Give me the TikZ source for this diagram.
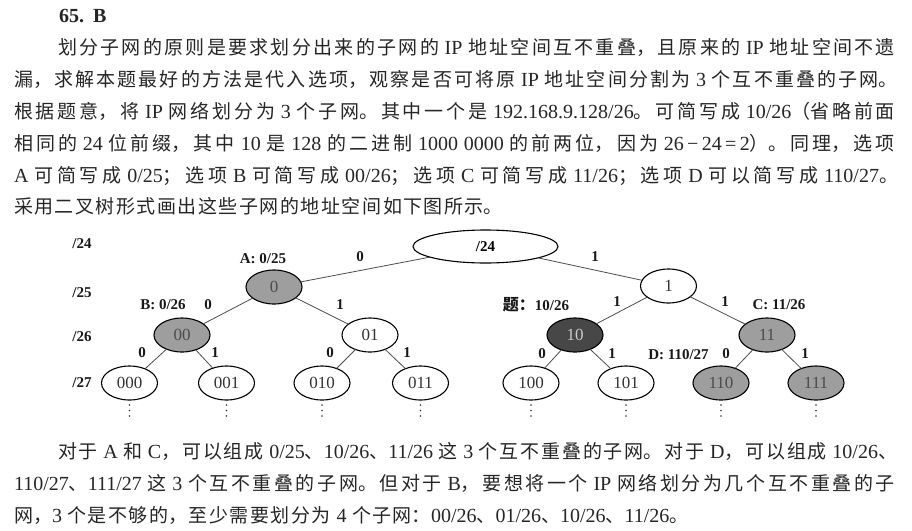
\documentclass[tikz,border=0pt]{standalone}
\usepackage{fontspec}
\setmainfont{Liberation Serif}
\newfontfamily\cjkf{Noto Sans CJK SC}
\usetikzlibrary{shapes.geometric}
\XeTeXlinebreaklocale "zh"
\XeTeXlinebreakskip=1.5pt plus 10pt minus 0.5pt
\newcommand{\zh}[1]{{\cjkf\fontsize{19}{22}\selectfont #1}}
\newcommand{\zhb}[1]{{\cjkf\bfseries\fontsize{16}{18}\selectfont #1}}
\newcommand{\jline}[2]{\parbox[b]{#1}{\tolerance=10000\hbadness=10000\parfillskip=0pt\spaceskip=5.5pt plus 2pt minus 1.5pt\noindent #2}}
\newcommand{\nline}[1]{\parbox[b]{880pt}{\spaceskip=5.5pt plus 2pt minus 1.5pt\noindent #1}}
\begin{document}
\begin{tikzpicture}[x=1pt,y=-1pt,
  every node/.style={inner sep=0pt, outer sep=0pt},
  txt/.style={anchor=base west, font=\fontsize{20}{22}\selectfont, text=black!85},
  nd/.style={ellipse, draw=black, line width=1.1pt, minimum width=56pt, minimum height=34pt, font=\fontsize{17}{20}\selectfont, text=black!80},
  graynd/.style={nd, fill=black!38, text=black!70},
  darknd/.style={nd, fill=black!72, text=white!80!black},
  lbl/.style={font=\bfseries\fontsize{15}{18}\selectfont, text=black!90},
  edge/.style={draw=black!70, line width=0.8pt}]
\fill[white] (0,0) rectangle (912,530);
\useasboundingbox (0,0) rectangle (912,530);

% ---------- top paragraph ----------
\node[txt, font=\bfseries\fontsize{20}{24}\selectfont] (t0) at (59,22) {65.\hspace{9pt}B};
\node[txt] (t1) at (58,54.7) {\jline{837pt}{\zh{划分子网的原则是要求划分出来的子网的} IP \zh{地址空间互不重叠，且原来的} IP \zh{地址空间不遗}}};
\node[txt] (t2) at (14,86.5) {\jline{884pt}{\zh{漏，求解本题最好的方法是代入选项，观察是否可将原} IP \zh{地址空间分割为} 3 \zh{个互不重叠的子网。}}};
\node[txt] (t3) at (14,118.4) {\jline{881pt}{\zh{根据题意，将} IP \zh{网络划分为} 3 \zh{个子网。其中一个是} 192.168.9.128/26\zh{。可简写成} 10/26\zh{（省略前面}}};
\node[txt] (t4) at (14,150.2) {\jline{881pt}{\zh{相同的} 24 \zh{位前缀，其中} 10 \zh{是} 128 \zh{的二进制} 1000 0000 \zh{的前两位，因为} 26\,−\,24\,=\,2\zh{）。同理，选项}}};
\node[txt] (t5) at (14,182.1) {\jline{884pt}{A \zh{可简写成} 0/25\zh{；选项} B \zh{可简写成} 00/26\zh{；选项} C \zh{可简写成} 11/26\zh{；选项} D \zh{可以简写成} 110/27\zh{。}}};
\node[txt] (t6) at (14,213.9) {\nline{\zh{采用二叉树形式画出这些子网的地址空间如下图所示。}}};

% ---------- bottom paragraph ----------
\node[txt] (b1) at (58,458.7) {\jline{839pt}{\zh{对于} A \zh{和} C\zh{，可以组成} 0/25\zh{、}10/26\zh{、}11/26 \zh{这} 3 \zh{个互不重叠的子网。对于} D\zh{，可以组成} 10/26\zh{、}}};
\node[txt] (b2) at (14,490.5) {\jline{881pt}{110/27\zh{、}111/27 \zh{这} 3 \zh{个互不重叠的子网。但对于} B\zh{，要想将一个} IP \zh{网络划分为几个互不重叠的子}}};
\node[txt] (b3) at (14,522.4) {\nline{\zh{网，}3 \zh{个是不够的，至少需要划分为} 4 \zh{个子网：}00/26\zh{、}01/26\zh{、}10/26\zh{、}11/26\zh{。}}};

% ---------- level labels ----------
\node[lbl] (v24) at (82,244) {/24};
\node[lbl] (v25) at (82,293) {/25};
\node[lbl] (v26) at (82,337) {/26};
\node[lbl] (v27) at (82,383) {/27};

% ---------- tree nodes ----------
\node[nd, minimum width=145pt, minimum height=33pt, font=\bfseries\fontsize{15}{18}\selectfont, text=black] (r) at (485.5,246.5) {/24};
\node[graynd] (n0) at (274,287) {0};
\node[nd] (n1) at (668.5,286) {1};
\node[graynd] (n00) at (182,335) {00};
\node[nd] (n01) at (370,335) {01};
\node[darknd] (n10) at (575,335) {10};
\node[graynd] (n11) at (767,335) {11};
\node[nd] (n000) at (129.5,383) {000};
\node[nd] (n001) at (226.5,383) {001};
\node[nd] (n010) at (322,383) {010};
\node[nd] (n011) at (420.5,383) {011};
\node[nd] (n100) at (531,383) {100};
\node[nd] (n101) at (626,383) {101};
\node[graynd] (n110) at (721,383) {110};
\node[graynd] (n111) at (816,383) {111};

% ---------- edges ----------
\foreach \p/\c in {r/n0, r/n1, n0/n00, n0/n01, n1/n10, n1/n11,
  n00/n000, n00/n001, n01/n010, n01/n011, n10/n100, n10/n101, n11/n110, n11/n111}
  \draw[edge] (\p) -- (\c);

% ---------- edge labels ----------
\node[lbl] (e1) at (360,257) {0};
\node[lbl] (e2) at (595,257) {1};
\node[lbl] (e3) at (208,305) {0};
\node[lbl] (e4) at (340,305) {1};
\node[lbl] (e5) at (617,302) {1};
\node[lbl] (e6) at (725,302) {1};
\node[lbl] (e7) at (142,353) {0};
\node[lbl] (e8) at (215,353) {1};
\node[lbl] (e9) at (330,353) {0};
\node[lbl] (e10) at (407,353) {1};
\node[lbl] (e11) at (542,354) {0};
\node[lbl] (e12) at (612,354) {1};
\node[lbl] (e13) at (726,354) {0};
\node[lbl] (e14) at (805,354) {1};

% ---------- option labels ----------
\node[lbl] (la) at (263,259) {A: 0/25};
\node[lbl] (lb) at (163,305) {B: 0/26};
\node[lbl] (lt) at (536,305) {\zhb{题：}10/26};
\node[lbl] (lc) at (779,305) {C: 11/26};
\node[lbl] (ld) at (678.5,355) {D: 110/27};

% ---------- continuation dots ----------
\foreach \n in {n000,n001,n010,n011,n100,n101,n110,n111}
  \foreach \d in {0,1,2}
    \fill[black!80] (\n.south) ++(0,5+5.5*\d) circle (0.9pt);
\end{tikzpicture}
\end{document}
